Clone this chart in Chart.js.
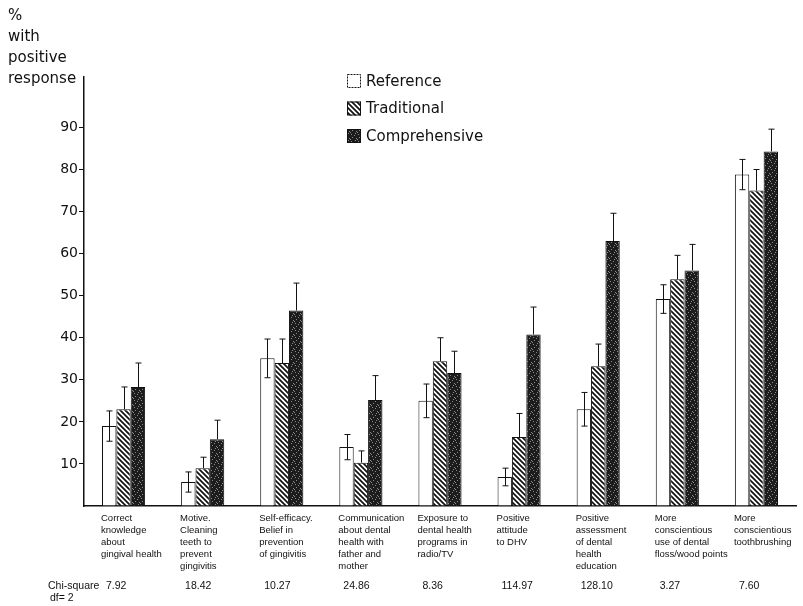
<!DOCTYPE html>
<html>
<head>
<meta charset="utf-8">
<script src="https://cdn.jsdelivr.net/npm/chart.js@4.4.1/dist/chart.umd.min.js"></script>
<style>
  html, body { margin: 0; padding: 0; background: #ffffff; }
  #wrap { width: 803px; height: 606px; }
</style>
</head>
<body>
<div id="wrap"><canvas id="dentalChart" width="803" height="606"></canvas></div>
<script>
// Values (% with positive response)
const categories = [
    ['Correct', 'knowledge', 'about', 'gingival health'],
    ['Motive.', 'Cleaning', 'teeth to', 'prevent', 'gingivitis'],
    ['Self-efficacy.', 'Belief in', 'prevention', 'of gingivitis'],
    ['Communication', 'about dental', 'health with', 'father and', 'mother'],
    ['Exposure to', 'dental health', 'programs in', 'radio/TV'],
    ['Positive', 'attitude', 'to DHV'],
    ['Positive', 'assessment', 'of dental', 'health', 'education'],
    ['More', 'conscientious', 'use of dental', 'floss/wood points'],
    ['More', 'conscientious', 'toothbrushing']
];
const seriesNames = ['Reference', 'Traditional', 'Comprehensive'];
const referenceValues = [19.0, 5.7, 35.1, 14.0, 25.0, 6.9, 23.0, 49.2, 78.8];
const traditionalValues = [23.0, 9.0, 34.0, 10.3, 34.4, 16.4, 33.2, 53.9, 75.0];
const comprehensiveValues = [28.3, 15.9, 46.5, 25.2, 31.6, 40.8, 63.0, 56.0, 84.3];
// top of each error whisker
const referenceErrTop = [22.6, 8.1, 39.7, 17.0, 29.0, 9.0, 27.0, 52.6, 82.4];
const traditionalErrTop = [28.3, 11.6, 39.7, 13.1, 40.0, 22.0, 38.5, 59.6, 80.0];
const comprehensiveErrTop = [34.0, 20.4, 53.0, 31.0, 36.8, 47.3, 69.6, 62.2, 89.6];
const chiSquare = ['7.92', '18.42', '10.27', '24.86', '8.36', '114.97', '128.10', '3.27', '7.60'];
const yTickLabels = [10, 20, 30, 40, 50, 60, 70, 80, 90];

const FONT = "'Liberation Sans', Arial, sans-serif";
const WIDE = "'DejaVu Sans', sans-serif";

// fill patterns
function makeHatch() {
    const c = document.createElement('canvas');
    c.width = 5; c.height = 5;
    const g = c.getContext('2d');
    g.fillStyle = '#ffffff';
    g.fillRect(0, 0, 5, 5);
    g.strokeStyle = '#111111';
    g.lineWidth = 1.7;
    g.beginPath();
    g.moveTo(-1, -1); g.lineTo(6, 6);
    g.moveTo(-1, 4); g.lineTo(1, 6);
    g.moveTo(4, -1); g.lineTo(6, 1);
    g.stroke();
    return g.createPattern(c, 'repeat');
}
function makeStipple() {
    const c = document.createElement('canvas');
    c.width = 7; c.height = 7;
    const g = c.getContext('2d');
    g.fillStyle = '#1c1c1c';
    g.fillRect(0, 0, 7, 7);
    g.fillStyle = '#8a8a8a';
    [[1, 1], [4, 2], [2, 4], [6, 5], [5, 0], [0, 6]].forEach(([x, y]) => g.fillRect(x, y, 1, 1));
    return g.createPattern(c, 'repeat');
}
const hatch = makeHatch();
const stipple = makeStipple();

const fills = ['#ffffff', hatch, stipple];
const errTops = [referenceErrTop, traditionalErrTop, comprehensiveErrTop];

// error whiskers, lower half only visible on the white bars
const errorBarPlugin = {
    id: 'errorBars',
    afterDatasetsDraw(chart) {
        const ctx = chart.ctx;
        const yScale = chart.scales.y;
        ctx.save();
        ctx.strokeStyle = '#111111';
        ctx.lineWidth = 1;
        chart.data.datasets.forEach((ds, di) => {
            const meta = chart.getDatasetMeta(di);
            meta.data.forEach((bar, i) => {
                const x = Math.round(bar.x) + 0.5;
                const top = yScale.getPixelForValue(errTops[di][i]);
                let bottom = bar.y;
                if (di === 0) {
                    bottom = yScale.getPixelForValue(2 * ds.data[i] - errTops[di][i]);
                }
                ctx.beginPath();
                ctx.moveTo(x, top); ctx.lineTo(x, bottom);
                ctx.moveTo(x - 3, top); ctx.lineTo(x + 3, top);
                if (di === 0) { ctx.moveTo(x - 3, bottom); ctx.lineTo(x + 3, bottom); }
                ctx.stroke();
            });
        });
        ctx.restore();
    }
};

// axis caption, legend, category labels and chi-square row
const textPlugin = {
    id: 'texts',
    afterDraw(chart) {
        const ctx = chart.ctx;
        ctx.save();
        ctx.fillStyle = '#111111';
        ctx.textBaseline = 'middle';
        ctx.textAlign = 'left';

        ctx.font = `15px ${WIDE}`;
        ['%', 'with', 'positive', 'response'].forEach((t, i) => ctx.fillText(t, 8, 16 + i * 21));

        // legend
        ctx.font = `15px ${WIDE}`;
        seriesNames.forEach((name, i) => {
            const y = 81 + i * 27.5;
            ctx.fillStyle = fills[i];
            ctx.fillRect(347, y - 7, 14, 14);
            ctx.strokeStyle = '#111111';
            ctx.lineWidth = 1;
            if (i === 0) ctx.setLineDash([2, 1]);
            ctx.strokeRect(347.5, y - 6.5, 13, 13);
            ctx.setLineDash([]);
            ctx.fillStyle = '#111111';
            ctx.fillText(name, 366, y + 1);
        });

        // category labels
        const meta = chart.getDatasetMeta(0);
        ctx.font = `9.5px ${FONT}`;
        categories.forEach((lines, i) => {
            const bar = meta.data[i];
            const left = bar.x - bar.width / 2 - 1;
            lines.forEach((t, j) => ctx.fillText(t, left, 518 + j * 12));
        });

        ctx.font = `10.5px ${FONT}`;
        ctx.fillText('Chi-square', 48, 586);
        ctx.fillText('df= 2', 50, 598);
        chiSquare.forEach((t, i) => {
            const bar = meta.data[i];
            ctx.fillText(t, bar.x - bar.width / 2 + 4, 586);
        });
        ctx.restore();
    }
};

new Chart(document.getElementById('dentalChart'), {
    type: 'bar',
    data: {
        labels: categories.map(c => c.join(' ')),
        datasets: [
            { label: seriesNames[0], data: referenceValues, backgroundColor: '#ffffff' },
            { label: seriesNames[1], data: traditionalValues, backgroundColor: hatch },
            { label: seriesNames[2], data: comprehensiveValues, backgroundColor: stipple }
        ].map(d => Object.assign(d, {
            borderColor: '#111111',
            borderWidth: 1,
            barPercentage: 1,
            categoryPercentage: 0.545
        }))
    },
    options: {
        responsive: false,
        animation: false,
        devicePixelRatio: 1,
        layout: { padding: { top: 77, right: 7, left: 0, bottom: 0 } },
        plugins: {
            legend: { display: false },
            tooltip: { enabled: false }
        },
        scales: {
            x: {
                grid: { display: false, drawOnChartArea: false, drawTicks: false },
                border: { display: true, color: '#111111', width: 1.5 },
                ticks: { display: false },
                afterFit(scale) { scale.height = 100; }
            },
            y: {
                min: 0,
                max: 102,
                ticks: {
                    stepSize: 10,
                    padding: 1,
                    color: '#111111',
                    font: { family: WIDE, size: 14 },
                    callback: v => yTickLabels.includes(v) ? String(v) : ''
                },
                grid: {
                    drawOnChartArea: false,
                    drawTicks: true,
                    tickLength: 5,
                    tickColor: c => (c.tick && yTickLabels.includes(c.tick.value)) ? '#111111' : 'rgba(0,0,0,0)'
                },
                border: { display: true, color: '#111111', width: 1.5 },
                afterFit(scale) { scale.width = 84; }
            }
        }
    },
    plugins: [errorBarPlugin, textPlugin]
});
</script>
</body>
</html>
